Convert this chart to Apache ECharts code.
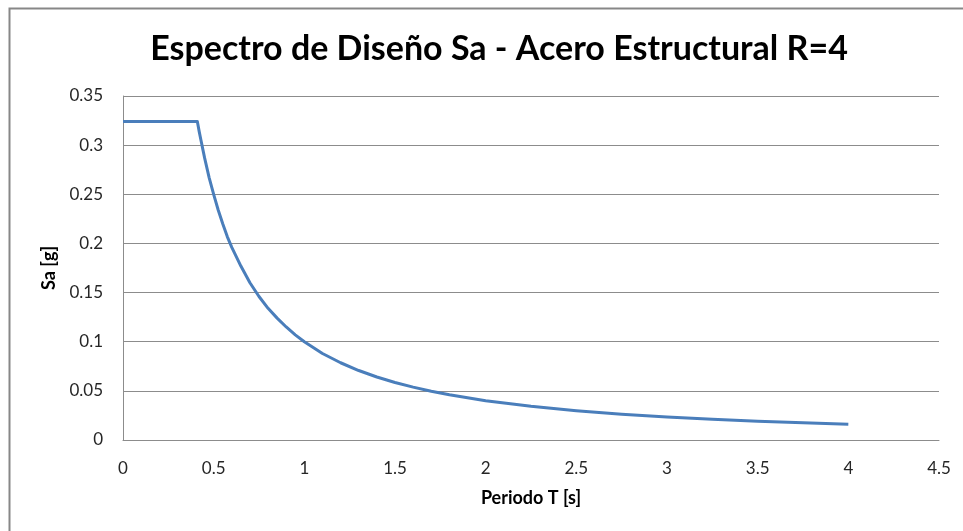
<!DOCTYPE html>
<html>
<head>
<meta charset="utf-8">
<script src="https://cdn.jsdelivr.net/npm/echarts@6/dist/echarts.min.js"></script>
<style>
  html, body { margin: 0; padding: 0; background: #ffffff; }
  #chart { width: 963px; height: 531px; }
</style>
</head>
<body>
<div id="chart"></div>
<script>
// Design spectrum Sa(T) for structural steel, R = 4
const titleText = 'Espectro de Diseño Sa - Acero Estructural R=4';
const xAxisName = 'Periodo T [s]';
const yAxisName = 'Sa [g]';

// Period T [s]
const periods = [0, 0.41, 0.42, 0.43, 0.44, 0.45, 0.475, 0.5, 0.525, 0.55, 0.575, 0.6, 0.65, 0.7, 0.75, 0.8, 0.85, 0.9, 0.95,
  1.0, 1.1, 1.2, 1.3, 1.4, 1.5, 1.6, 1.7, 1.8, 1.9, 2.0, 2.25, 2.5, 2.75, 3.0, 3.25, 3.5, 3.75, 4.0];
// Spectral acceleration Sa [g]
const saValues = [0.324, 0.324, 0.314, 0.305, 0.296, 0.287, 0.267, 0.250, 0.234, 0.220, 0.207, 0.196, 0.177, 0.160, 0.146, 0.134, 0.124, 0.115, 0.107,
  0.100, 0.088, 0.0786, 0.0707, 0.0641, 0.0585, 0.0538, 0.0496, 0.046, 0.0429, 0.040, 0.0343, 0.0298, 0.0263, 0.0235, 0.0211, 0.0191, 0.0175, 0.016];

const points = periods.map((t, i) => [t, saValues[i]]);

const chart = echarts.init(document.getElementById('chart'), null, { renderer: 'canvas' });
const font = 'Lato, "Open Sans", sans-serif';

chart.setOption({
  animation: false,
  backgroundColor: '#ffffff',
  title: {
    text: titleText,
    left: 494,
    top: 27,
    textAlign: 'center',
    textStyle: { fontFamily: font, fontWeight: 'bold', fontSize: 34, color: '#000000' }
  },
  grid: { left: 123, right: 24, top: 96, bottom: 91, containLabel: false },
  xAxis: {
    type: 'value',
    min: 0, max: 4.5, interval: 0.5,
    name: xAxisName,
    nameLocation: 'middle',
    nameGap: 49,
    nameTextStyle: { fontFamily: font, fontWeight: 'bold', fontSize: 18, color: '#000000' },
    axisLine: { show: true, lineStyle: { color: '#8c8c8c', width: 1 } },
    axisTick: { show: false },
    axisLabel: { fontFamily: font, fontSize: 17, color: '#262626', margin: 20 },
    splitLine: { show: false }
  },
  yAxis: {
    type: 'value',
    min: 0, max: 0.35, interval: 0.05,
    name: yAxisName,
    nameLocation: 'middle',
    nameGap: 60,
    nameRotate: 90,
    nameTextStyle: { fontFamily: font, fontWeight: 'bold', fontSize: 18, color: '#000000' },
    axisLine: { show: true, lineStyle: { color: '#8c8c8c', width: 1 } },
    axisTick: { show: false },
    axisLabel: { fontFamily: font, fontSize: 17, color: '#262626', margin: 20 },
    splitLine: { show: true, lineStyle: { color: '#8c8c8c', width: 1 } }
  },
  series: [{
    type: 'line',
    data: points,
    smooth: false,
    showSymbol: false,
    lineStyle: { color: '#4a7ebb', width: 3, join: 'round' }
  }],
  graphic: [{
    type: 'polyline',
    shape: { points: [[9.5, 531], [9.5, 8.5], [963, 8.5]] },
    style: { stroke: '#878787', lineWidth: 2, fill: null }
  }]
});
</script>
</body>
</html>
